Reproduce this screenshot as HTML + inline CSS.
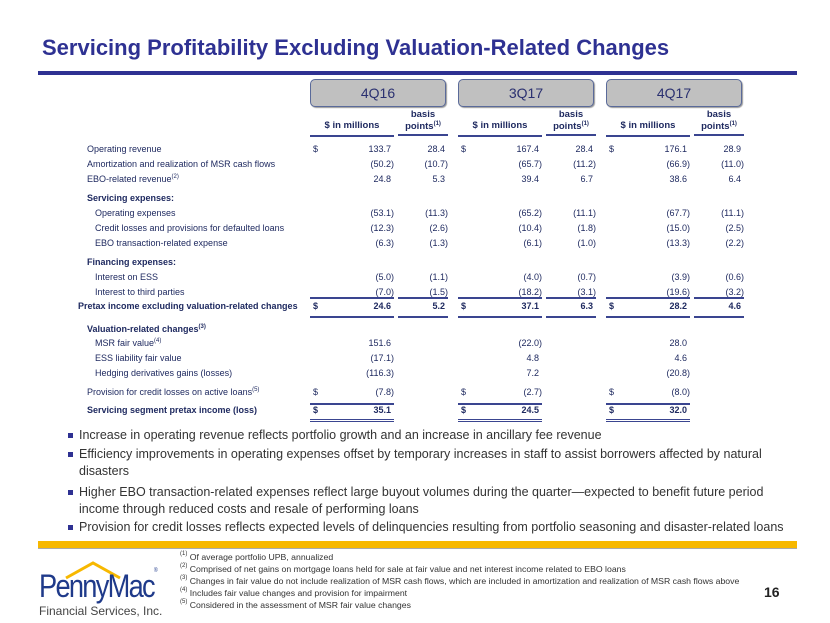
<!DOCTYPE html>
<html><head><meta charset="utf-8">
<style>
body{margin:0;width:830px;height:623px;background:#fff;position:relative;overflow:hidden;font-family:"Liberation Sans",sans-serif;}
.abs{position:absolute;white-space:nowrap;}
.t{font-size:9px;color:#1f2a60;line-height:11px;}
.tab{position:absolute;top:79px;width:134px;height:26px;background:#c0c0c0;border:1px solid #5a6a9a;border-radius:5px;font-size:14px;color:#2a3070;text-align:center;line-height:26px;box-shadow:1px 1px 1px #999;}
.hdr{position:absolute;font-size:9.5px;font-weight:bold;color:#1f2a60;text-align:center;border-bottom:2px solid #3a4590;line-height:12px;}
.num{position:absolute;text-align:right;width:70px;}
.rule{position:absolute;height:0;border-top:2px solid #3a4590;}
.bul{position:absolute;left:64px;width:722px;font-size:12.5px;color:#333;line-height:17px;}
.bul:before{content:"";position:absolute;left:4px;top:6px;width:5px;height:5px;background:#2e3192;}
.bul span{display:block;padding-left:15px;}
.fn{position:absolute;left:180px;font-size:8.7px;color:#333;line-height:12px;}
sup{font-size:6px;vertical-align:top;line-height:6px;}
</style></head><body>
<div class="abs" style="left:42px;top:35px;font-size:22px;font-weight:bold;color:#2e3192;">Servicing Profitability Excluding Valuation-Related Changes</div>
<div class="abs" style="left:38px;top:71px;width:759px;height:4px;background:#2e3192;"></div>
<div class="tab" style="left:310px;">4Q16</div>
<div class="tab" style="left:458px;">3Q17</div>
<div class="tab" style="left:606px;">4Q17</div>
<div id="tbl"></div>
<div class="bul" style="top:427px;"><span>Increase in operating revenue reflects portfolio growth and an increase in ancillary fee revenue</span></div>
<div class="bul" style="top:446px;"><span>Efficiency improvements in operating expenses offset by temporary increases in staff to assist borrowers affected by natural disasters</span></div>
<div class="bul" style="top:484px;"><span>Higher EBO transaction-related expenses reflect large buyout volumes during the quarter—expected to benefit future period income through reduced costs and resale of performing loans</span></div>
<div class="bul" style="top:519px;"><span>Provision for credit losses reflects expected levels of delinquencies resulting from portfolio seasoning and disaster-related loans</span></div>
<div class="abs" style="left:38px;top:541px;width:759px;height:7px;background:#f7b800;border-bottom:1px solid #aaa;"></div>
<div class="fn" style="top:551px;">
<div><sup>(1)</sup> Of average portfolio UPB, annualized</div>
<div><sup>(2)</sup> Comprised of net gains on mortgage loans held for sale at fair value and net interest income related to EBO loans</div>
<div><sup>(3)</sup> Changes in fair value do not include realization of MSR cash flows, which are included in amortization and realization of MSR cash flows above</div>
<div><sup>(4)</sup> Includes fair value changes and provision for impairment</div>
<div><sup>(5)</sup> Considered in the assessment of MSR fair value changes</div>
</div>
<div class="abs" style="left:764px;top:584px;font-size:14px;font-weight:bold;color:#222;">16</div>
<div class="abs" style="left:38px;top:560px;width:115px;height:60px;">
<svg width="115" height="20" style="position:absolute;left:0;top:0"><polyline points="28,18 55,3 82,18" fill="none" stroke="#f7b800" stroke-width="3"/></svg>
<div class="abs" style="left:1px;top:8px;font-size:32px;color:#1f3a8a;letter-spacing:-2px;transform:scaleX(0.85);transform-origin:left;">PennyMac<sup style="font-size:6px">®</sup></div>
<div class="abs" style="left:1px;top:44px;font-size:12px;color:#444;">Financial Services, Inc.</div>
</div>
<script>
const rowLabels=["Operating revenue","Amortization and realization of MSR cash flows","EBO-related revenue","Servicing expenses:","Operating expenses","Credit losses and provisions for defaulted loans","EBO transaction-related expense","Financing expenses:","Interest on ESS","Interest to third parties","Pretax income excluding valuation-related changes","Valuation-related changes","MSR fair value","ESS liability fair value","Hedging derivatives gains (losses)","Provision for credit losses on active loans","Servicing segment pretax income (loss)"];
const rowTops=[144,159,174,193,208,223,238,257,272,287,301,324,338,353,368,387,405];
const rowIndent=[0,0,0,0,1,1,1,0,1,1,-1,0,1,1,1,0,0];
const rowBold=[0,0,0,1,0,0,0,1,0,0,1,1,0,0,0,0,1];
const rowSup=["","","(2)","","","","","","","","","(3)","(4)","","","(5)",""];
const q4q16m=["133.7","(50.2)","24.8","","(53.1)","(12.3)","(6.3)","","(5.0)","(7.0)","24.6","","151.6","(17.1)","(116.3)","(7.8)","35.1"];
const q4q16b=["28.4","(10.7)","5.3","","(11.3)","(2.6)","(1.3)","","(1.1)","(1.5)","5.2","","","","","",""];
const q3q17m=["167.4","(65.7)","39.4","","(65.2)","(10.4)","(6.1)","","(4.0)","(18.2)","37.1","","(22.0)","4.8","7.2","(2.7)","24.5"];
const q3q17b=["28.4","(11.2)","6.7","","(11.1)","(1.8)","(1.0)","","(0.7)","(3.1)","6.3","","","","","",""];
const q4q17m=["176.1","(66.9)","38.6","","(67.7)","(15.0)","(13.3)","","(3.9)","(19.6)","28.2","","28.0","4.6","(20.8)","(8.0)","32.0"];
const q4q17b=["28.9","(11.0)","6.4","","(11.1)","(2.5)","(2.2)","","(0.6)","(3.2)","4.6","","","","","",""];
const dollarRows=[0,10,15,16];
const tbl=document.getElementById('tbl');
function mk(cls,txt,l,t,name){const d=document.createElement('div');d.className=cls;d.innerHTML=txt;d.style.left=l+'px';d.style.top=t+'px';


tbl.appendChild(d);return d;}
const cols=[{x:310,m:q4q16m,b:q4q16b,n:'4q16'},{x:458,m:q3q17m,b:q3q17b,n:'3q17'},{x:606,m:q4q17m,b:q4q17b,n:'4q17'}];
cols.forEach(c=>{
 const h1=mk('hdr','$ in millions',c.x,120,'header-millions-'+c.n);h1.style.width='84px';h1.style.paddingBottom='3px';
 const h2=mk('hdr','basis<br>points<sup>(1)</sup>',c.x+88,109,'header-basis-'+c.n);h2.style.width='50px';h2.style.paddingBottom='1px';
 [[297,1],[316,1],[403,0],[419,0]].forEach(([y,both],i)=>{
  const r=mk('rule','',c.x,y,'rule-'+c.n+'-'+i);r.style.width='84px';
  if(i==3){r.style.borderTop='3px double #3a4590';}
  if(both){const r2=mk('rule','',c.x+88,y,'rule-bp-'+c.n+'-'+i);r2.style.width='50px';}
 });
});
rowLabels.forEach((lab,i)=>{
 const t=rowTops[i];
 const left=rowIndent[i]==1?95:(rowIndent[i]==-1?78:87);
 const l=mk('abs t',lab+(rowSup[i]?'<sup>'+rowSup[i]+'</sup>':''),left,t,'row-label-'+i);
 if(rowBold[i])l.style.fontWeight='bold';
 cols.forEach(c=>{
  const sty=v=>v.startsWith('(')?'0':'3px';
  if(dollarRows.includes(i)){const d=mk('abs t','$',c.x+3,t,'dollar-'+c.n+'-'+i);if(rowBold[i])d.style.fontWeight='bold';}
  if(c.m[i]){const n=mk('num t',c.m[i],c.x+12,t,'value-millions-'+c.n+'-'+i);n.style.paddingRight=sty(c.m[i]);n.style.width=(72-parseInt(sty(c.m[i])))+'px';if(rowBold[i])n.style.fontWeight='bold';}
  if(c.b[i]){const n=mk('num t',c.b[i],c.x+68,t,'value-bp-'+c.n+'-'+i);n.style.paddingRight=sty(c.b[i]);n.style.width=(70-parseInt(sty(c.b[i])))+'px';if(rowBold[i])n.style.fontWeight='bold';}
 });
});
</script>
</body></html>
